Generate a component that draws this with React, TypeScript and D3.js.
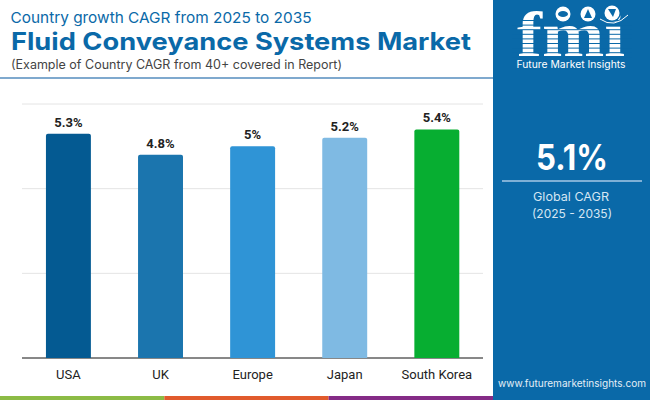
import React from "react";
import * as d3 from "d3";

const categories = ["USA", "UK", "Europe", "Japan", "South Korea"];
const values = [5.3, 4.8, 5.0, 5.2, 5.4];
const valueLabels = ["5.3%", "4.8%", "5%", "5.2%", "5.4%"];
const barColors = ["#045A92", "#1B75AE", "#2F94D6", "#7FBAE3", "#07AE31"];
const gridTicks = [0, 2, 4, 6];
const footerColors = ["#8CBB45", "#E15B2D", "#852B86"];
const PANEL = "#0A69A8";

const x = d3.scaleBand<string>().domain(categories).range([22, 483.25]).paddingInner(0.512).paddingOuter(0.26);
const y = d3.scaleLinear().domain([0, 6]).range([358, 104]);
const footerX = d3.scaleBand<string>().domain(footerColors).range([0, 493]);

const head = "Inter, 'Open Sans', sans-serif";
const logoStripes = d3.range(20, 60, 4.6);

function barPath(bx: number, top: number, w: number, bottom: number, r: number) {
  const p = d3.path();
  p.moveTo(bx, bottom);
  p.lineTo(bx, top + r);
  p.quadraticCurveTo(bx, top, bx + r, top);
  p.lineTo(bx + w - r, top);
  p.quadraticCurveTo(bx + w, top, bx + w, top + r);
  p.lineTo(bx + w, bottom);
  p.closePath();
  return p.toString();
}

export default function App() {
  return (
    <svg width={650} height={400} viewBox="0 0 650 400" style={{ position: "fixed", left: 0, top: 0, background: "#fff" }}>
      <rect width={650} height={400} fill="#fff" />
      <text x={10.5} y={23} fontFamily={head} fontSize={15} fill="#0A69A8" textLength={301} lengthAdjust="spacingAndGlyphs">Country growth CAGR from 2025 to 2035</text>
      <text x={11} y={49.5} fontFamily={head} fontSize={24} fontWeight={700} fill="#0A69A8" textLength={460} lengthAdjust="spacingAndGlyphs">Fluid Conveyance Systems Market</text>
      <text x={11} y={68.5} fontFamily={head} fontSize={12.5} fill="#444" textLength={331} lengthAdjust="spacingAndGlyphs">(Example of Country CAGR from 40+ covered in Report)</text>
      <rect x={0} y={77} width={493} height={2} fill="#7FA9CE" />

      {gridTicks.map((t) => (
        <line key={t} x1={22} x2={483} y1={y(t)} y2={y(t)} stroke={t === 0 ? "#111" : "#e4e4e4"} strokeWidth={1} />
      ))}
      {categories.map((c, i) => (
        <g key={c}>
          <path d={barPath(x(c)!, y(values[i]), x.bandwidth(), y(0), 2)} fill={barColors[i]} />
          <text x={x(c)! + x.bandwidth() / 2} y={y(values[i]) - 7} textAnchor="middle" fontFamily="Roboto, sans-serif" fontWeight={700} fontSize={13} fill="#222">{valueLabels[i]}</text>
          <text x={x(c)! + x.bandwidth() / 2} y={379} textAnchor="middle" fontFamily="Roboto, sans-serif" fontSize={13} fill="#222">{c}</text>
        </g>
      ))}

      {footerColors.map((c) => (
        <rect key={c} x={footerX(c)} y={396} width={footerX.bandwidth()} height={4} fill={c} />
      ))}

      <rect x={493} y={0} width={157} height={400} fill={PANEL} />
      <text x={572} y={170} textAnchor="middle" fontFamily={head} fontWeight={700} fontSize={35} fill="#fff" textLength={72} lengthAdjust="spacingAndGlyphs">5.1%</text>
      <rect x={502} y={180} width={140} height={2} fill="#7FB0D6" />
      <text x={571} y={201} textAnchor="middle" fontFamily={head} fontSize={12} fill="#D5E6F3" textLength={76} lengthAdjust="spacingAndGlyphs">Global CAGR</text>
      <text x={572} y={218} textAnchor="middle" fontFamily={head} fontSize={12} fill="#D5E6F3" textLength={80} lengthAdjust="spacingAndGlyphs">(2025 - 2035)</text>
      <text x={572} y={387} textAnchor="middle" fontFamily={head} fontSize={10} fill="#E4EFF7" textLength={148} lengthAdjust="spacingAndGlyphs">www.futuremarketinsights.com</text>

      <text x={571} y={56} textAnchor="middle" fontFamily="'Liberation Serif', serif" fontWeight={700} fontSize={64} fill="#fff" textLength={108} lengthAdjust="spacingAndGlyphs">fmi</text>
      {logoStripes.map((s) => (
        <rect key={s} x={512} y={s} width={120} height={1} fill={PANEL} />
      ))}
      <g>
        <circle cx={563} cy={14} r={7.5} fill="#fff" />
        <circle cx={588} cy={14} r={7.5} fill="#fff" />
        <circle cx={612} cy={13} r={9} fill={PANEL} />
        <circle cx={612} cy={13} r={7.5} fill="#fff" />
        <ellipse cx={563} cy={14} rx={5} ry={3} fill={PANEL} />
        <path d="M588 9 L592 18 L584 18 Z" fill={PANEL} />
        <path d="M608 9 L616 9 L613 17 Z" fill={PANEL} />
        <path d="M600 19 Q614 29 628 15" fill="none" stroke="#fff" strokeWidth={1} />
      </g>
      <text x={571} y={67.5} textAnchor="middle" fontFamily={head} fontSize={10} fill="#fff" textLength={109} lengthAdjust="spacingAndGlyphs">Future Market Insights</text>
    </svg>
  );
}
